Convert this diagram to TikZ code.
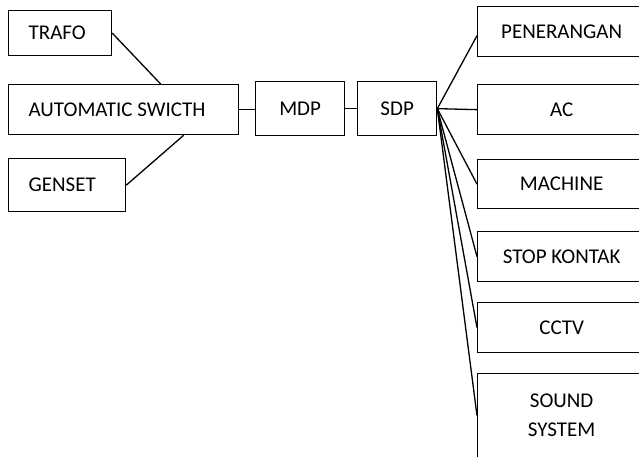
\documentclass[tikz,border=0pt]{standalone}
\usepackage{fontspec}
\setmainfont{Carlito}
\begin{document}
\begin{tikzpicture}[x=1pt,y=-1pt,line width=1.3pt,
  lbox/.style={draw,anchor=north west,inner xsep=20pt,inner ysep=0pt,execute at begin node={\spaceskip=0pt\relax}},
  cbox/.style={draw,anchor=north west,minimum height=54pt,inner sep=0pt},
  rbox/.style={draw,anchor=north west,minimum width=168pt,minimum height=50pt,inner sep=0pt,align=center}]
	\fontsize{21}{29}\selectfont
	\clip (0,0) rectangle (639,457);

	\node[lbox, text width=63pt, minimum height=45pt] (trafo) at (8,10) {TRAFO};
	\node[lbox, text width=190pt, minimum height=50pt] (asw) at (8,84) {AUTOMATIC SWICTH};
	\node[lbox, text width=77pt, minimum height=53pt] (genset) at (8,158) {GENSET};
	\node[cbox, minimum width=89pt] (mdp) at (255,81) {MDP};
	\node[cbox, minimum width=79pt] (sdp) at (357,81) {SDP};

	\node[rbox] (pen) at (477,6) {PENERANGAN};
	\node[rbox] (ac) at (477,84) {AC};
	\node[rbox, minimum height=49pt] (mach) at (477,159) {MACHINE};
	\node[rbox] (stop) at (477,231) {STOP KONTAK};
	\node[rbox] (cctv) at (477,302) {CCTV};
	\node[rbox, minimum height=84pt] (sound) at (477,373) {SOUND\\SYSTEM};

	\draw (trafo.east) -- ([xshift=37pt]asw.north);
	\draw (genset.east) -- ([xshift=60pt]asw.south);
	\draw (asw.east) -- (asw.east -| mdp.west);
	\draw (mdp.east) -- (sdp.west);
	\draw ([yshift=-4pt]pen.west) -- (sdp.east);
	\foreach \n in {ac,mach,stop,cctv,sound}
		\draw (sdp.east) -- (\n.west);

\end{tikzpicture}
\end{document}
